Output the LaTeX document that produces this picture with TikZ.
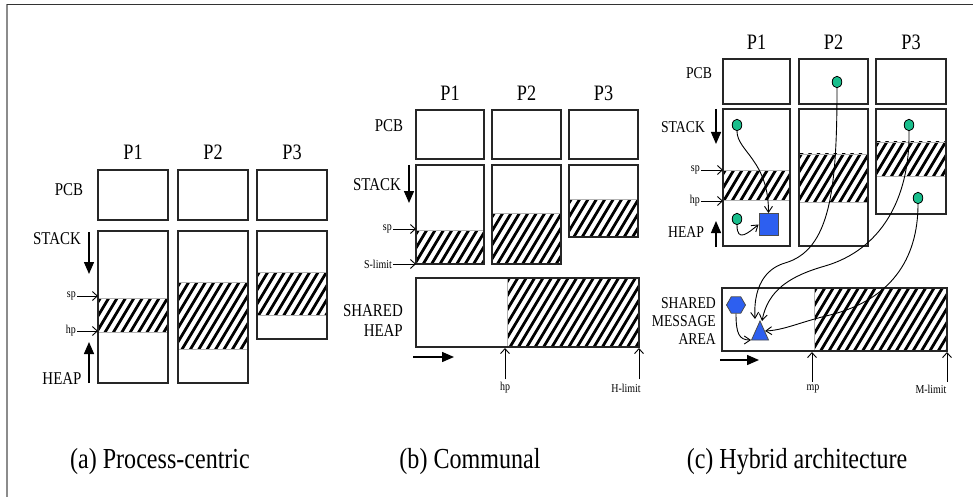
\documentclass[tikz,border=0pt]{standalone}
\usepackage{fontspec}
\setmainfont{Liberation Serif}
\newfontfamily\narrowserif[FakeStretch=0.83]{Liberation Serif}
\usetikzlibrary{arrows.meta,shapes.geometric}
\definecolor{dotgreen}{RGB}{25,190,140}
\definecolor{shapeblue}{RGB}{45,95,240}
\tikzset{
  box/.style={draw=black!85, line width=1.7pt, inner sep=0pt, outer sep=0pt},
  sepline/.style={draw=black!30, line width=0.8pt},
  lbl/.style={font=\narrowserif\fontsize{18}{20}\selectfont, inner sep=0pt},
  lblc/.style={font=\narrowserif\fontsize{16.5}{18}\selectfont, inner sep=0pt},
  plbl/.style={font=\narrowserif\fontsize{22}{24}\selectfont, inner sep=0pt},
  small/.style={font=\narrowserif\fontsize{12}{13}\selectfont, inner sep=0pt},
  caplbl/.style={font=\narrowserif\fontsize{29}{31}\selectfont, inner sep=0pt},
  dirarrow/.style={line width=1.4pt, -{Triangle[length=12pt,width=10pt]}},
  ptr/.style={line width=0.9pt, -{Straight Barb[length=5pt,width=9pt]}},
  link/.style={line width=0.9pt, -{Straight Barb[length=6pt,width=8pt]}},
  gdot/.style={ellipse, draw=black, line width=0.8pt, fill=dotgreen, minimum width=9.5pt, minimum height=11.5pt, inner sep=0pt},
  sqnode/.style={rectangle, draw=black!70, line width=0.8pt, fill=shapeblue, minimum width=19pt, minimum height=22pt, inner sep=0pt},
  hexnode/.style={regular polygon, regular polygon sides=6, draw=black!70, line width=0.8pt, fill=shapeblue, minimum size=19pt, inner sep=0pt},
}
\newcommand{\rectnode}[5]{\node[box, anchor=north west, minimum width={(#4-#2)*1pt}, minimum height={(#5-#3)*1pt}] (#1) at (#2,#3) {};}
\newcommand{\hatchrect}[4]{%
  \begin{scope}
    \clip (#1,#2) rectangle (#3,#4);
    \pgfmathsetmacro{\hatchH}{#4-#2}
    \pgfmathsetmacro{\hatchD}{0.6*\hatchH}
    \pgfmathtruncatemacro{\hatchN}{(#3-#1+\hatchD)/8.4+3}
    \foreach \hatchK in {0,...,\hatchN}{
      \pgfmathsetmacro{\hatchX}{#1-\hatchD-6+8.4*\hatchK}
      \draw[line width=2.8pt] (\hatchX-3,#4+5) -- (\hatchX+\hatchD+3,#2-5);
    }
  \end{scope}}
\begin{document}
\begin{tikzpicture}[x=1pt,y=-1pt]
\useasboundingbox (0,0) rectangle (973,497);
% frame
\draw[black!45, line width=1.3pt] (7,4.5) -- (7,497);
\draw[black!80, line width=1.3pt] (7,4.5) -- (973,4.5);

%%%%%%%%%%%%%%%% (a)
\hatchrect{98}{298}{168}{332}
\hatchrect{178}{282}{248}{349}
\hatchrect{257}{272}{327}{315}
\draw[sepline] (98,298) -- (168,298) (98,332) -- (168,332);
\draw[sepline] (178,282) -- (248,282) (178,349) -- (248,349);
\draw[sepline] (257,272) -- (327,272) (257,315) -- (327,315);
\rectnode{aC1}{98}{170}{168}{220}
\rectnode{aC2}{178}{170}{248}{220}
\rectnode{aC3}{257}{170}{327}{220}
\rectnode{aS1}{98}{231}{168}{383}
\rectnode{aS2}{178}{231}{248}{383}
\rectnode{aS3}{257}{231}{327}{339}
\node[plbl] (aP1) at (133,152) {P1};
\node[plbl] (aP2) at (213,152) {P2};
\node[plbl] (aP3) at (292,152) {P3};
\node[lbl] (aPCB) at (69,190) {PCB};
\node[lbl] (aSTACK) at (57,239) {STACK};
\node[lbl] (aHEAP) at (62,379) {HEAP};
\node[small, anchor=east] (asp) at (76,296) {sp};
\node[small, anchor=east] (ahp) at (76,331) {hp};
\coordinate (aSd0) at (89,232); \coordinate (aSd1) at (89,274);
\coordinate (aHd0) at (89,383); \coordinate (aHd1) at (89,342);
\draw[dirarrow] (aSd0) -- (aSd1);
\draw[dirarrow] (aHd0) -- (aHd1);
\draw[ptr] ([xshift=1pt]asp.east) -- (asp.east -| aS1.west);
\draw[ptr] ([xshift=1pt]ahp.east) -- (ahp.east -| aS1.west);
\node[caplbl] (acap) at (160,462) {(a) Process-centric};

%%%%%%%%%%%%%%%% (b)
\hatchrect{416}{230}{484}{264}
\hatchrect{492}{213}{561}{264}
\hatchrect{569}{199}{638}{237}
\hatchrect{507}{278}{639}{347}
\draw[sepline] (416,230) -- (484,230);
\draw[sepline] (492,213) -- (561,213);
\draw[sepline] (569,199) -- (638,199);
\draw[sepline] (507,278) -- (507,347);
\rectnode{bC1}{416}{110}{484}{159}
\rectnode{bC2}{492}{110}{561}{159}
\rectnode{bC3}{569}{110}{638}{159}
\rectnode{bS1}{416}{165}{484}{264}
\rectnode{bS2}{492}{165}{561}{264}
\rectnode{bS3}{569}{165}{638}{237}
\rectnode{bH}{416}{278}{639}{347}
\node[plbl] (bP1) at (450,93) {P1};
\node[plbl] (bP2) at (526.5,93) {P2};
\node[plbl] (bP3) at (603.5,93) {P3};
\node[lbl] (bPCB) at (389,126) {PCB};
\node[lbl] (bSTACK) at (377,185) {STACK};
\node[small, anchor=east] (bsp) at (392,229) {sp};
\node[small, anchor=east] (bsl) at (392,264) {S-limit};
\node[lbl, align=right, anchor=east] (bSH) at (403,321) {SHARED\\HEAP};
\coordinate (bSd0) at (409,165); \coordinate (bSd1) at (409,203);
\coordinate (bHd0) at (413,357); \coordinate (bHd1) at (454,357);
\draw[dirarrow] (bSd0) -- (bSd1);
\draw[dirarrow] (bHd0) -- (bHd1);
\draw[ptr] ([xshift=1pt]bsp.east) -- (bsp.east -| bS1.west);
\draw[ptr] ([xshift=1pt]bsl.east) -- (bsl.east -| bS1.west);
\node[small] (bhp) at (505,388) {hp};
\node[small] (bhl) at (626,388) {H-limit};
\coordinate (bhpT) at (505,348); \coordinate (bhlT) at (639,348);
\draw[ptr] ([yshift=3pt]bhp.north) -- (bhpT);
\draw[ptr] ([yshift=3pt]bhp.north -| bhlT) -- (bhlT);
\node[caplbl] (bcap) at (470,462) {(b) Communal};

%%%%%%%%%%%%%%%% (c)
\hatchrect{723}{170}{790}{200}
\hatchrect{799}{154}{868}{202}
\hatchrect{876}{142}{946}{176}
\hatchrect{814}{288}{947}{351}
\draw[sepline] (723,170) -- (790,170) (723,200) -- (790,200);
\draw[sepline] (799,154) -- (868,154) (799,202) -- (868,202);
\draw[sepline] (876,142) -- (946,142) (876,176) -- (946,176);
\draw[sepline] (814,288) -- (814,351);
\rectnode{cC1}{723}{59}{790}{104}
\rectnode{cC2}{799}{59}{868}{104}
\rectnode{cC3}{876}{59}{946}{104}
\rectnode{cS1}{723}{109}{790}{246}
\rectnode{cS2}{799}{109}{868}{246}
\rectnode{cS3}{876}{109}{946}{214}
\rectnode{cM}{722}{288}{947}{351}
\node[plbl] (cP1) at (756.5,42) {P1};
\node[plbl] (cP2) at (833.5,42) {P2};
\node[plbl] (cP3) at (911,42) {P3};
\node[lblc] (cPCB) at (699,73) {PCB};
\node[lblc] (cSTACK) at (683,127) {STACK};
\node[lblc] (cHEAP) at (686,232) {HEAP};
\node[small, anchor=east] (csp) at (700,170) {sp};
\node[small, anchor=east] (chp) at (700,201) {hp};
\node[lblc, align=right, anchor=east] (cSM) at (716,321) {SHARED\\MESSAGE\\AREA};
\coordinate (cSd0) at (716,109); \coordinate (cSd1) at (716,144);
\coordinate (cHd0) at (716,247); \coordinate (cHd1) at (716,221);
\coordinate (cMd0) at (720,360); \coordinate (cMd1) at (759,360);
\draw[dirarrow] (cSd0) -- (cSd1);
\draw[dirarrow] (cHd0) -- (cHd1);
\draw[dirarrow] (cMd0) -- (cMd1);
\draw[ptr] ([xshift=1pt]csp.east) -- (csp.east -| cS1.west);
\draw[ptr] ([xshift=1pt]chp.east) -- (chp.east -| cS1.west);
\node[small] (cmp) at (813,389) {mp};
\node[small] (cml) at (931,389) {M-limit};
\coordinate (cmpT) at (812,352); \coordinate (cmlT) at (947,352);
\draw[ptr] ([yshift=3pt]cmp.north -| cmpT) -- (cmpT);
\draw[ptr] ([yshift=3pt]cmp.north -| cmlT) -- (cmlT);
\node[caplbl] (ccap) at (797,462) {(c) Hybrid architecture};

% shapes
\node[gdot] (d1) at (737,125) {};
\node[gdot] (d2) at (837,82) {};
\node[gdot] (d3) at (909,125) {};
\node[gdot] (d4) at (918,198) {};
\node[gdot] (d5) at (737,219) {};
\node[sqnode] (sq) at (768.5,224.5) {};
\node[hexnode] (hx) at (736,305) {};
\fill[shapeblue, draw=black!70, line width=0.8pt] (751.5,340) -- (760,321) -- (768.5,340) -- cycle;
\coordinate (triTL) at (755,319);
\coordinate (triTR) at (762,321);
\coordinate (triR) at (765,331);
\coordinate (triBL) at (751,340);
\coordinate (w3) at (785,263);
\coordinate (w4) at (825,266);
\coordinate (w5) at (830,315);

% connectors
\draw[link] (d1.south) .. controls +(0,20) and +(0,-53) .. (sq.north);
\draw[link] (d5.south) .. controls +(0,18) and +(-10,8) .. (sq.west);
\draw[link] (d2.south) .. controls (837,190) and (830,250) .. (w3) .. controls (771,267) and (753,280) .. (triTL);
\draw[link] (d3.south) .. controls (910,200) and (880,250) .. (w4) .. controls (790,276) and (768,290) .. (triTR);
\draw[link] (d4.south) .. controls (918,260) and (890,300) .. (w5) .. controls (800,322) and (785,330) .. (triR);
\draw[link] (hx.south) .. controls +(0,20) and +(-12,0) .. (triBL);
\end{tikzpicture}
\end{document}
